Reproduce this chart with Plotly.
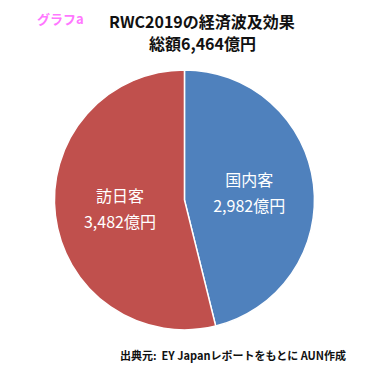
import plotly.graph_objects as go

labels = ["国内客", "訪日客"]
values = [2982, 3482]
colors = ["#4F81BD", "#C0504D"]
title_line1 = "RWC2019の経済波及効果"
title_line2 = "総額6,464億円"
tag = "グラフa"
source = "出典元:  EY Japanレポートをもとに AUN作成"

sp = "<span style='font-size:16px'>{}</span>"
texts = [sp.format(l) + "<br>" + sp.format(f"{v:,}億円") for l, v in zip(labels, values)]

fig = go.Figure(go.Pie(
    labels=labels, values=values, text=texts,
    textinfo="text", textposition="inside",
    insidetextfont=dict(color="white", size=20, family="Noto Sans CJK JP"),
    marker=dict(colors=colors, line=dict(color="white", width=1.5)),
    sort=False, direction="clockwise", rotation=0,
    domain=dict(x=[0.1226, 0.839], y=[0.137, 0.834]),
    showlegend=False, hoverinfo="label+value",
))

fig.add_annotation(x=0.529, y=0.966, xref="paper", yref="paper", xanchor="center", yanchor="middle",
                   text=f"<b>{title_line1}</b>",
                   showarrow=False, font=dict(size=16, color="#111", family="Noto Sans CJK JP"))
fig.add_annotation(x=0.529, y=0.905, xref="paper", yref="paper", xanchor="center", yanchor="middle",
                   text=f"<b>{title_line2}</b>",
                   showarrow=False, font=dict(size=16, color="#111", family="Noto Sans CJK JP"))
fig.add_annotation(x=0.143, y=0.972, xref="paper", yref="paper", xanchor="center", yanchor="middle",
                   text=f"<b>{tag}</b>",
                   showarrow=False, font=dict(size=13, color="#FF77FF", family="Noto Sans CJK JP"))
fig.add_annotation(x=0.927, y=0.07, xref="paper", yref="paper", xanchor="right", yanchor="middle",
                   text=f"<b>{source}</b>",
                   showarrow=False, font=dict(size=11, color="#111", family="Noto Sans CJK JP"))

fig.update_layout(width=367, height=373, margin=dict(l=0, r=0, t=0, b=0),
                  paper_bgcolor="white", plot_bgcolor="white")
fig.write_html("out.html")
